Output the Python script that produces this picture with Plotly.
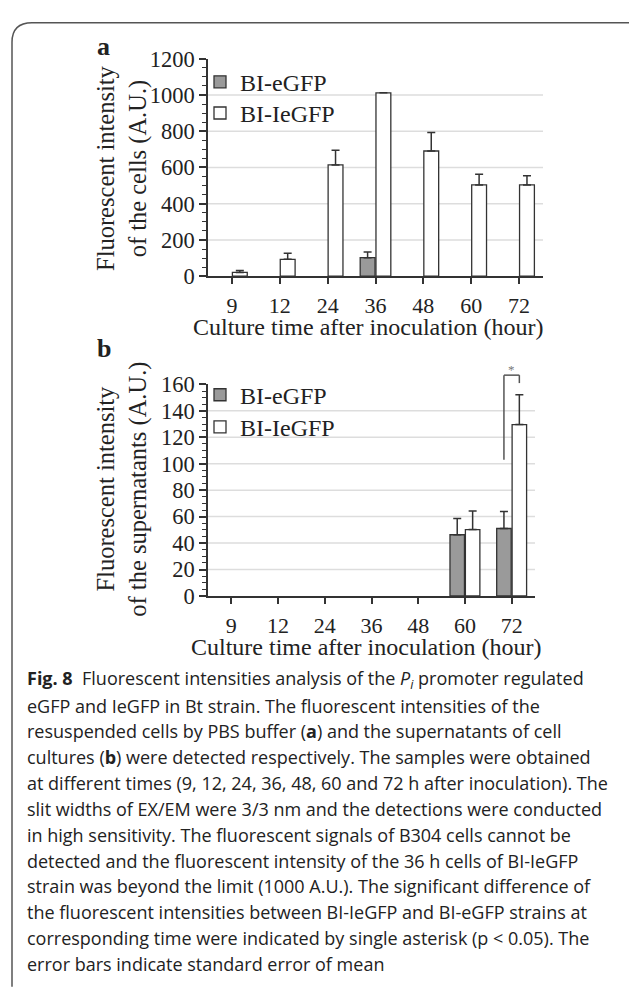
import plotly.graph_objects as go

# ---------------- data ----------------
categories = ['9', '12', '24', '36', '48', '60', '72']

cells_egfp = [None, None, None, 102, None, None, None]
cells_egfp_err = [None, None, None, 32, None, None, None]
cells_iegfp = [21, 93, 614, 1012, 691, 504, 504]
cells_iegfp_err = [11, 33, 81, None, 102, 58, 51]

sup_egfp = [None, None, None, None, None, 46.3, 51.0]
sup_egfp_err = [None, None, None, None, None, 12.3, 12.8]
sup_iegfp = [None, None, None, None, None, 50.2, 129.6]
sup_iegfp_err = [None, None, None, None, None, 14.1, 22.6]

series_names = ['BI-eGFP', 'BI-IeGFP']
cells_grid = [200, 400, 600, 800, 1000]
sup_yticks = [0, 20, 40, 60, 80, 100, 120, 140, 160]
sup_grid = [20, 40, 60, 80, 100, 120, 140]

sig_category = '72'
sig_left_low = 103
sig_top = 167
sig_right_low = 161
sig_star = 171

caption_lines = [
    "<b>Fig. 8</b>  Fluorescent intensities analysis of the <i>P</i><sub><i>i</i></sub> promoter regulated",
    "eGFP and IeGFP in Bt strain. The fluorescent intensities of the",
    "resuspended cells by PBS buffer (<b>a</b>) and the supernatants of cell",
    "cultures (<b>b</b>) were detected respectively. The samples were obtained",
    "at different times (9, 12, 24, 36, 48, 60 and 72 h after inoculation). The",
    "slit widths of EX/EM were 3/3 nm and the detections were conducted",
    "in high sensitivity. The fluorescent signals of B304 cells cannot be",
    "detected and the fluorescent intensity of the 36 h cells of BI-IeGFP",
    "strain was beyond the limit (1000 A.U.). The significant difference of",
    "the fluorescent intensities between BI-IeGFP and BI-eGFP strains at",
    "corresponding time were indicated by single asterisk (p &lt; 0.05). The",
    "error bars indicate standard error of mean",
]

# ---------------- layout helpers ----------------
W, H = 629, 995
def px(x):
    return x / W
def py(y):
    return 1 - y / H

SERIF = 'Liberation Serif'
DARK = '#333333'
TXT = '#222222'
GRAY_FILL = '#9a9a9a'
BARGAP = 0.34
BARGROUPGAP = 0.06

fig = go.Figure()

def add_bars(vals, errs, name, fill, xa, ya, legend):
    fig.add_trace(go.Bar(
        x=categories, y=vals, name=name, xaxis=xa, yaxis=ya, legend=legend,
        showlegend=True,
        marker=dict(color=fill, line=dict(color=DARK, width=1.3)),
        error_y=dict(type='data', array=errs, arrayminus=[0] * len(errs),
                     symmetric=False, color=DARK, thickness=1.5, width=4),
    ))

add_bars(cells_egfp, cells_egfp_err, series_names[0], GRAY_FILL, 'x', 'y', 'legend')
add_bars(cells_iegfp, cells_iegfp_err, series_names[1], 'white', 'x', 'y', 'legend2')
add_bars(sup_egfp, sup_egfp_err, series_names[0], GRAY_FILL, 'x2', 'y2', 'legend3')
add_bars(sup_iegfp, sup_iegfp_err, series_names[1], 'white', 'x2', 'y2', 'legend4')

def xaxis_style(domain, anchor):
    return dict(domain=domain, anchor=anchor, type='category', range=[-0.5, 6.5],
                showline=True, linecolor=DARK, linewidth=1.5,
                ticks='outside', ticklen=6, tickwidth=1.5, tickcolor=DARK,
                tickfont=dict(family=SERIF, size=22, color=TXT),
                ticklabelstandoff=3,
                showgrid=False, zeroline=False, fixedrange=True)

def yaxis_style(domain, anchor, rng, dtick, minor_dtick):
    return dict(domain=domain, anchor=anchor, range=rng,
                tickmode='linear', tick0=0, dtick=dtick,
                showline=True, linecolor=DARK, linewidth=1.5,
                ticks='outside', ticklen=7, tickwidth=1.5, tickcolor=DARK,
                tickfont=dict(family=SERIF, size=22.5, color=TXT),
                minor=dict(tickmode='linear', tick0=0, dtick=minor_dtick, ticks='outside',
                           ticklen=4, tickwidth=1.2, tickcolor=DARK, showgrid=False),
                showgrid=False, zeroline=False, fixedrange=True)

shapes = []
for v in cells_grid:
    shapes.append(dict(type='line', xref='x domain', yref='y', x0=0, x1=1, y0=v, y1=v,
                       line=dict(color='#dddddd', width=1.5), layer='below'))
for v in sup_grid:
    shapes.append(dict(type='line', xref='x2 domain', yref='y2', x0=0, x1=1, y0=v, y1=v,
                       line=dict(color='#dddddd', width=1.5), layer='below'))

# significance bracket for panel b
ci = categories.index(sig_category)
off = (1 - BARGAP) / 4
xl = (ci - off + 0.5) / 7
xr = (ci + off + 0.5) / 7
ymax = sup_yticks[-1]
br = dict(color='#555555', width=1.5)
shapes += [
    dict(type='line', xref='x2 domain', yref='y2 domain', x0=xl, x1=xl,
         y0=sig_left_low / ymax, y1=sig_top / ymax, line=br),
    dict(type='line', xref='x2 domain', yref='y2 domain', x0=xl, x1=xr,
         y0=sig_top / ymax, y1=sig_top / ymax, line=br),
    dict(type='line', xref='x2 domain', yref='y2 domain', x0=xr, x1=xr,
         y0=sig_right_low / ymax, y1=sig_top / ymax, line=br),
]

frame = (f"M {px(640)},{py(11)} L {px(32)},{py(11)} "
         f"Q {px(12)},{py(11)} {px(12)},{py(31)} L {px(12)},{py(1000)}")
shapes.append(dict(type='path', xref='paper', yref='paper', path=frame,
                   line=dict(color='#555555', width=1.5)))

annotations = []
def ann(text, x, y, size, **kw):
    d = dict(text=text, x=px(x), y=py(y), xref='paper', yref='paper', showarrow=False,
             font=dict(family=kw.pop('family', SERIF), size=size, color=kw.pop('color', TXT)),
             xanchor=kw.pop('xanchor', 'center'), yanchor=kw.pop('yanchor', 'middle'))
    d.update(kw)
    annotations.append(d)

ann('<b>a</b>', 103, 35, 26)
ann('<b>b</b>', 104, 345, 26)
ann('Fluorescent intensity<br>of the cells (A.U.)', 122, 160, 24.5, textangle=-90)
ann('Fluorescent intensity<br>of the supernatants (A.U.)', 122, 490, 24.5, textangle=-90)
ann('Culture time after inoculation (hour)', 368, 323, 24)
ann('Culture time after inoculation (hour)', 366, 651, 24)

annotations.append(dict(text='*', xref='x2 domain', yref='y2 domain',
                        x=(ci + 0.5) / 7, y=sig_star / ymax, showarrow=False,
                        font=dict(family=SERIF, size=13, color='#777777'),
                        xanchor='center', yanchor='middle'))

for i, line in enumerate(caption_lines):
    ann(line, 25, 685 + i * 26.5, 18, family='Open Sans', xanchor='left', align='left')

legend_style = dict(bgcolor='rgba(0,0,0,0)', borderwidth=0,
                    font=dict(family=SERIF, size=24, color=TXT),
                    xanchor='left', yanchor='middle', tracegroupgap=0,
                    itemclick=False, itemdoubleclick=False, visible=True)

fig.update_layout(
    width=W, height=H,
    margin=dict(l=0, r=0, t=0, b=0),
    paper_bgcolor='white', plot_bgcolor='white',
    showlegend=True,
    barmode='group', bargap=BARGAP, bargroupgap=BARGROUPGAP,
    xaxis=xaxis_style([px(208), px(543)], 'y'),
    yaxis=yaxis_style([py(271), py(48)], 'x', [0, 1200], 200, 50),
    xaxis2=xaxis_style([px(208), px(535)], 'y2'),
    yaxis2=yaxis_style([py(599), py(382)], 'x2', [0, 160], 20, 5),
    legend=dict(x=px(200), y=py(72), **legend_style),
    legend2=dict(x=px(200), y=py(104), **legend_style),
    legend3=dict(x=px(200), y=py(393), **legend_style),
    legend4=dict(x=px(200), y=py(426), **legend_style),
    shapes=shapes,
    annotations=annotations,
)

fig.write_html('out.html', config={'displayModeBar': False},
               post_script="document.body.style.margin='0';document.body.style.overflow='hidden';")
